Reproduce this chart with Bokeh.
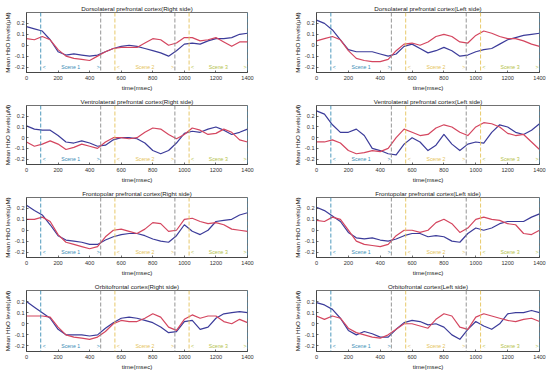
from bokeh.plotting import figure
from bokeh.layouts import gridplot
from bokeh.models import Range1d, FixedTicker, Span
from bokeh.embed import file_html
from bokeh.resources import INLINE
from bokeh.core.properties import value

# ---------------- data ----------------
t = list(range(0, 1401, 50))

titles = [
    "Dorsolateral prefrontal cortex(Right side)",
    "Dorsolateral prefrontal cortex(Left side)",
    "Ventrolateral prefrontal cortex(Right side)",
    "Ventrolateral prefrontal cortex(Left side)",
    "Frontopolar prefrontal cortex(Right side)",
    "Frontopolar prefrontal cortex(Left side)",
    "Orbitofrontal cortex(Right side)",
    "Orbitofrontal cortex(Left side)",
]

dlpfc_r_blue = [0.17, 0.15, 0.13, 0.05, -0.06, -0.09, -0.08, -0.09, -0.10, -0.09, -0.06, -0.03, -0.01, 0.00, -0.01,
                -0.03, -0.05, -0.07, -0.10, -0.05, 0.01, 0.02, 0.01, 0.04, 0.06, 0.06, 0.07, 0.10, 0.11]
dlpfc_r_red = [0.06, 0.05, 0.08, 0.05, -0.04, -0.10, -0.12, -0.13, -0.14, -0.10, -0.06, -0.03, -0.02, -0.02, -0.02,
               0.02, 0.06, 0.05, 0.00, 0.02, 0.07, 0.07, 0.04, 0.05, 0.07, 0.03, -0.01, 0.03, 0.03]

dlpfc_l_blue = [0.23, 0.20, 0.14, 0.05, -0.04, -0.06, -0.06, -0.06, -0.08, -0.10, -0.08, -0.01, 0.01, -0.03, -0.07,
                -0.05, -0.02, -0.05, -0.10, -0.09, -0.06, -0.04, -0.03, 0.01, 0.05, 0.07, 0.09, 0.10, 0.11]
dlpfc_l_red = [0.04, 0.06, 0.08, 0.05, -0.05, -0.12, -0.14, -0.15, -0.15, -0.13, -0.05, 0.01, 0.02, 0.00, 0.03,
               0.08, 0.10, 0.08, 0.03, 0.02, 0.09, 0.13, 0.11, 0.08, 0.06, 0.06, 0.04, 0.01, -0.01]

vlpfc_r_blue = [0.11, 0.08, 0.07, 0.07, 0.02, -0.04, -0.05, -0.03, -0.05, -0.08, -0.07, -0.02, 0.00, 0.00, -0.01,
                -0.05, -0.12, -0.15, -0.12, -0.05, 0.04, 0.06, 0.05, 0.08, 0.10, 0.07, 0.03, 0.05, 0.08]
vlpfc_r_red = [-0.04, -0.08, -0.06, -0.03, -0.06, -0.11, -0.09, -0.06, -0.08, -0.10, -0.04, 0.00, 0.00, -0.01, 0.00,
               0.05, 0.09, 0.08, 0.03, -0.01, 0.03, 0.09, 0.07, 0.03, 0.04, 0.08, 0.05, -0.02, -0.04]

vlpfc_l_blue = [0.25, 0.22, 0.12, 0.05, 0.05, 0.08, 0.02, -0.10, -0.12, -0.15, -0.16, -0.06, 0.00, -0.04, -0.12,
                -0.07, 0.03, -0.06, -0.12, -0.06, -0.04, -0.05, 0.05, 0.12, 0.10, 0.05, 0.03, 0.07, 0.13]
vlpfc_l_red = [-0.04, -0.04, -0.02, -0.05, -0.12, -0.15, -0.14, -0.12, -0.13, -0.10, 0.00, 0.08, 0.05, 0.02, 0.03,
               0.09, 0.12, 0.10, 0.05, 0.02, 0.10, 0.14, 0.13, 0.10, 0.04, 0.02, 0.03, -0.04, -0.11]

fppfc_r_blue = [0.23, 0.18, 0.14, 0.05, -0.05, -0.09, -0.10, -0.11, -0.13, -0.13, -0.09, -0.06, -0.04, -0.03, -0.03,
                -0.05, -0.08, -0.10, -0.11, -0.05, 0.05, -0.01, -0.04, 0.00, 0.08, 0.09, 0.10, 0.14, 0.16]
fppfc_r_red = [0.10, 0.10, 0.12, 0.08, -0.04, -0.11, -0.13, -0.15, -0.17, -0.15, -0.06, 0.00, 0.01, -0.01, -0.03,
               0.01, 0.07, 0.06, -0.01, 0.00, 0.10, 0.11, 0.08, 0.06, 0.07, 0.05, 0.01, 0.00, -0.01]

fppfc_l_blue = [0.21, 0.18, 0.13, 0.08, -0.02, -0.07, -0.08, -0.07, -0.09, -0.10, -0.08, -0.05, -0.03, -0.03, -0.06,
                -0.05, -0.06, -0.10, -0.11, -0.03, 0.02, 0.00, 0.02, 0.06, 0.08, 0.08, 0.08, 0.12, 0.15]
fppfc_l_red = [0.09, 0.08, 0.12, 0.10, 0.00, -0.10, -0.13, -0.14, -0.15, -0.13, -0.05, 0.00, 0.00, -0.02, 0.00,
               0.07, 0.10, 0.06, -0.02, 0.02, 0.10, 0.12, 0.10, 0.09, 0.06, 0.05, -0.03, -0.04, 0.00]

ofc_r_blue = [0.20, 0.15, 0.10, 0.05, -0.05, -0.10, -0.10, -0.10, -0.11, -0.10, -0.04, 0.01, 0.05, 0.06, 0.05,
              0.03, 0.01, -0.03, -0.08, -0.07, 0.02, 0.03, -0.05, -0.03, 0.05, 0.09, 0.10, 0.11, 0.10]
ofc_r_red = [0.07, 0.07, 0.07, 0.06, -0.03, -0.10, -0.12, -0.13, -0.14, -0.12, -0.07, 0.00, 0.03, 0.02, 0.02,
             0.05, 0.09, 0.06, -0.03, -0.06, 0.04, 0.08, 0.05, 0.07, 0.07, 0.02, 0.00, 0.04, 0.01]

ofc_l_blue = [0.19, 0.17, 0.13, 0.05, -0.06, -0.10, -0.07, -0.09, -0.12, -0.12, -0.05, 0.01, 0.03, 0.02, -0.01,
              0.00, -0.03, -0.10, -0.14, -0.05, 0.02, -0.02, -0.05, 0.00, 0.09, 0.10, 0.10, 0.12, 0.10]
ofc_l_red = [0.07, 0.04, 0.07, 0.05, -0.04, -0.08, -0.10, -0.12, -0.13, -0.10, -0.05, 0.00, 0.00, -0.02, -0.04,
             0.04, 0.09, 0.07, -0.03, -0.05, 0.06, 0.09, 0.07, 0.05, 0.03, 0.02, 0.04, 0.05, 0.02]

blue_series = [dlpfc_r_blue, dlpfc_l_blue, vlpfc_r_blue, vlpfc_l_blue,
               fppfc_r_blue, fppfc_l_blue, ofc_r_blue, ofc_l_blue]
red_series = [dlpfc_r_red, dlpfc_l_red, vlpfc_r_red, vlpfc_l_red,
              fppfc_r_red, fppfc_l_red, ofc_r_red, ofc_l_red]

event_times = [90, 470, 560, 940, 1030, 1400]
scene_names = ["Scene 1", "Scene 2", "Scene 3"]
scene_start = [90, 560, 1030]
scene_end = [470, 940, 1400]
y_ticks = [-0.2, -0.1, 0, 0.1, 0.2]
x_ticks = [0, 200, 400, 600, 800, 1000, 1200, 1400]

# ---------------- style ----------------
FONT = "Liberation Sans"
BLUE = "#3c3c9a"
RED = "#d4465f"
TEAL = "#3b8db5"
GRAY = "#8a8a8a"
YELLOW = "#e5c35a"
SCENE3 = "#b5c24a"
event_colors = [TEAL, GRAY, YELLOW, GRAY, YELLOW, TEAL]
scene_colors = [TEAL, YELLOW, SCENE3]
AX = "#333333"

row_heights = [93, 92, 93, 97]


def make_panel(i):
    col = i % 2
    r = i // 2
    if col == 0:
        w, bl, br = 275, 23, 28
    else:
        w, bl, br = 275, 41, 11
    h = row_heights[r]
    p = figure(width=w, height=h, output_backend="svg", toolbar_location=None,
               x_range=Range1d(0, 1400), y_range=Range1d(-0.25, 0.3),
               min_border_left=bl, min_border_right=br, min_border_top=12,
               min_border_bottom=h - 12 - 61, title=titles[i])
    p.title.text_font = FONT
    p.title.text_font_size = "6.2px"
    p.title.text_font_style = "normal"
    p.title.text_color = "#222222"
    p.title.align = "center"
    p.title.offset = 0
    p.title.standoff = 1

    p.grid.visible = False
    p.outline_line_color = AX
    p.outline_line_width = 0.7
    p.background_fill_color = "white"
    p.border_fill_color = "white"

    for ax in (p.xaxis[0], p.yaxis[0]):
        ax.axis_line_color = AX
        ax.axis_line_width = 0.7
        ax.major_tick_in = 2
        ax.major_tick_out = 0
        ax.major_tick_line_color = AX
        ax.major_tick_line_width = 0.7
        ax.minor_tick_line_color = None
        ax.major_label_text_font = FONT
        ax.major_label_text_font_size = "5.6px"
        ax.major_label_text_color = "#333333"
        ax.axis_label_text_font = FONT
        ax.axis_label_text_font_size = "6.2px"
        ax.axis_label_text_font_style = "normal"
        ax.axis_label_text_color = "#222222"
    p.xaxis.ticker = FixedTicker(ticks=x_ticks)
    p.yaxis.ticker = FixedTicker(ticks=y_ticks)
    p.yaxis.major_label_overrides = {-0.2: "-0.2", -0.1: "-0.1", 0: "0", 0.1: "0.1", 0.2: "0.2"}
    p.xaxis.axis_label = "time(msec)"
    p.yaxis.axis_label = "Mean HbO levels(μM)"
    p.xaxis.major_label_standoff = 3
    p.xaxis.axis_label_standoff = 1
    p.yaxis.major_label_standoff = 2
    p.yaxis.axis_label_standoff = 1

    for loc, c in zip(event_times, event_colors):
        p.add_layout(Span(location=loc, dimension="height", line_color=c,
                          line_dash="4 2", line_width=0.9))

    p.line(t, blue_series[i], line_color=BLUE, line_width=1.2, line_join="round")
    p.line(t, red_series[i], line_color=RED, line_width=1.2, line_join="round")

    centers = [(a + b) / 2 for a, b in zip(scene_start, scene_end)]
    p.text(x=centers, y=[-0.2] * 3, text=scene_names, text_color=scene_colors,
           text_font=value(FONT), text_font_size="5.2px",
           text_align="center", text_baseline="middle")
    p.text(x=[s + 22 for s in scene_start], y=[-0.2] * 3, text=["<"] * 3,
           text_color=scene_colors, text_font=value(FONT), text_font_size="5.2px",
           text_align="center", text_baseline="middle")
    p.text(x=[e - 15 for e in scene_end], y=[-0.2] * 3, text=[">"] * 3,
           text_color=scene_colors, text_font=value(FONT), text_font_size="5.2px",
           text_align="center", text_baseline="middle")
    return p


panels = [make_panel(i) for i in range(8)]
grid = gridplot([[panels[0], panels[1]], [panels[2], panels[3]],
                 [panels[4], panels[5]], [panels[6], panels[7]]],
                toolbar_location=None)

open("out.html", "w").write(file_html(grid, INLINE))
